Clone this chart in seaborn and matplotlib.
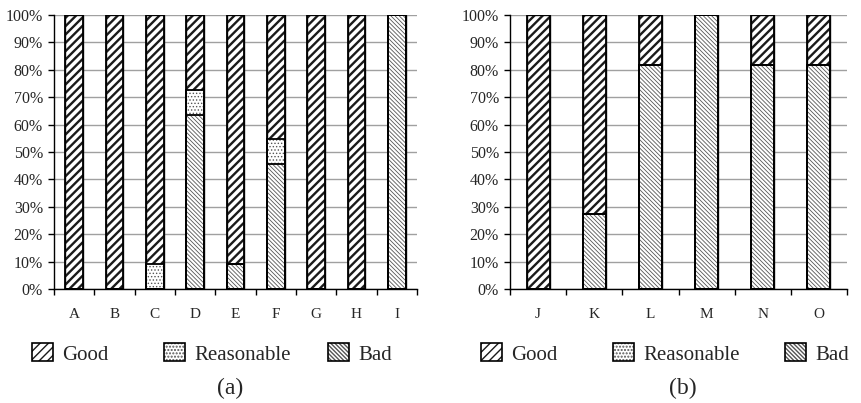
import numpy as np
import pandas as pd
import matplotlib
matplotlib.use("Agg")
import matplotlib.pyplot as plt
import matplotlib.patches as mpatches
from matplotlib.legend_handler import HandlerTuple
import seaborn as sns

# ---------------- data ----------------
cats_a = ["A", "B", "C", "D", "E", "F", "G", "H", "I"]
good_a = [100, 100, 90.9, 27.3, 90.9, 45.4, 100, 100, 0]
reas_a = [0, 0, 9.1, 9.1, 0, 9.1, 0, 0, 0]
bad_a = [0, 0, 0, 63.6, 9.1, 45.5, 0, 0, 100]

cats_b = ["J", "K", "L", "M", "N", "O"]
good_b = [100, 72.7, 18.2, 0, 18.2, 18.2]
reas_b = [0, 0, 0, 0, 0, 0]
bad_b = [0, 27.3, 81.8, 100, 81.8, 81.8]

series_labels = ["Good", "Reasonable", "Bad"]
yticks = list(range(0, 101, 10))
panel_labels = ["(a)", "(b)"]

# ---------------- style ----------------
sns.set_style("white")
plt.rcParams["font.family"] = ["Liberation Serif", "DejaVu Serif"]

W, H = 861, 403
fig = plt.figure(figsize=(W / 100, H / 100), dpi=100)

HATCH_GOOD = "////"
HATCH_REAS = "....."
HATCH_BAD = "\\\\\\\\\\\\\\\\"
GOOD_HCOL = "#1a1a1a"
REAS_HCOL = "#555555"
BAD_HCOL = "#555555"
LW_GOOD = 1.7
LW_REAS = 0.6
LW_BAD = 0.6


def set_hlw(container, lw):
    for p in container:
        if hasattr(p, "set_hatch_linewidth"):
            p.set_hatch_linewidth(lw)


def draw_panel(ax, cats, good, reas, bad, width, xmax):
    bad = np.array(bad, float)
    reas = np.array(reas, float)
    good = np.array(good, float)
    low = bad
    mid = bad + reas
    top = bad + reas + good
    df = pd.DataFrame({"cat": cats, "top": top, "mid": mid, "low": low})

    with plt.rc_context({"hatch.linewidth": LW_GOOD}):
        sns.barplot(data=df, x="cat", y="top", ax=ax, color="white", saturation=1,
                    edgecolor=GOOD_HCOL, hatch=HATCH_GOOD, width=width, linewidth=1.0,
                    errorbar=None, zorder=2)
    set_hlw(ax.containers[-1], LW_GOOD)
    with plt.rc_context({"hatch.linewidth": LW_REAS}):
        sns.barplot(data=df, x="cat", y="mid", ax=ax, color="white", saturation=1,
                    edgecolor=REAS_HCOL, hatch=HATCH_REAS, width=width, linewidth=0.0,
                    errorbar=None, zorder=3)
    set_hlw(ax.containers[-1], LW_REAS)
    with plt.rc_context({"hatch.linewidth": LW_BAD}):
        sns.barplot(data=df, x="cat", y="low", ax=ax, color="white", saturation=1,
                    edgecolor=BAD_HCOL, hatch=HATCH_BAD, width=width, linewidth=0.0,
                    errorbar=None, zorder=4)
    set_hlw(ax.containers[-1], LW_BAD)
    # black outlines of each segment
    for col in ["top", "mid", "low"]:
        sns.barplot(data=df, x="cat", y=col, ax=ax, fill=False, color="black",
                    width=width, linewidth=1.3, errorbar=None, zorder=5)

    ax.set_ylim(0, 100)
    ax.set_xlim(-0.5, xmax)
    ax.set_yticks(yticks)
    ax.set_yticklabels([f"{v}%" for v in yticks])
    ax.yaxis.grid(True, color="#a0a0a0", linewidth=1.0)
    ax.xaxis.grid(False)
    ax.set_axisbelow(True)
    ax.set_xlabel("")
    ax.set_ylabel("")
    for s in ["top", "right"]:
        ax.spines[s].set_visible(False)
    for s in ["left", "bottom"]:
        ax.spines[s].set_color("black")
        ax.spines[s].set_linewidth(1.0)
        ax.spines[s].set_zorder(6)
    ax.tick_params(axis="y", which="major", direction="out", length=4, width=1.0,
                   color="black", left=True, labelsize=11.5, pad=4)
    ax.tick_params(axis="x", which="major", length=0, labelsize=11, pad=14)
    ax.set_xticks(np.arange(-0.5, len(cats) + 0.5, 1.0), minor=True)
    ax.tick_params(axis="x", which="minor", direction="out", length=4, width=1.0,
                   color="black", bottom=True)


ax_a = fig.add_axes([54 / W, 1 - 289 / H, 363 / W, 274 / H])
draw_panel(ax_a, cats_a, good_a, reas_a, bad_a, 0.44, 8.5)

ax_b = fig.add_axes([510 / W, 1 - 289 / H, 337 / W, 274 / H])
draw_panel(ax_b, cats_b, good_b, reas_b, bad_b, 0.41, -0.5 + 337 / 58.8)


# ---------------- legends ----------------
def make_handle(hatch, hcol, hlw):
    with plt.rc_context({"hatch.linewidth": hlw}):
        p = mpatches.Patch(facecolor="white", edgecolor=hcol, hatch=hatch, linewidth=0)
    if hasattr(p, "set_hatch_linewidth"):
        p.set_hatch_linewidth(hlw)
    o = mpatches.Patch(facecolor="none", edgecolor="black", linewidth=1.2)
    return (p, o)


handles = [make_handle(HATCH_GOOD, GOOD_HCOL, LW_GOOD),
           make_handle(HATCH_REAS, REAS_HCOL, LW_REAS),
           make_handle(HATCH_BAD, BAD_HCOL, LW_BAD)]

leg_x = [[32, 164, 328], [481, 613, 785]]
leg_y = 1 - 354 / H
for xs in leg_x:
    for h, lab, x in zip(handles, series_labels, xs):
        fig.legend([h], [lab], loc="center left", bbox_to_anchor=(x / W, leg_y),
                   bbox_transform=fig.transFigure, frameon=False, borderpad=0,
                   borderaxespad=0, handlelength=1.0, handleheight=0.95,
                   handletextpad=0.45, fontsize=15,
                   handler_map={tuple: HandlerTuple(ndivide=1, pad=0)})

fig.text(230 / W, 1 - 388 / H, panel_labels[0], ha="center", va="center", fontsize=17)
fig.text(683 / W, 1 - 388 / H, panel_labels[1], ha="center", va="center", fontsize=17)

fig.savefig("out.png", dpi=100)
